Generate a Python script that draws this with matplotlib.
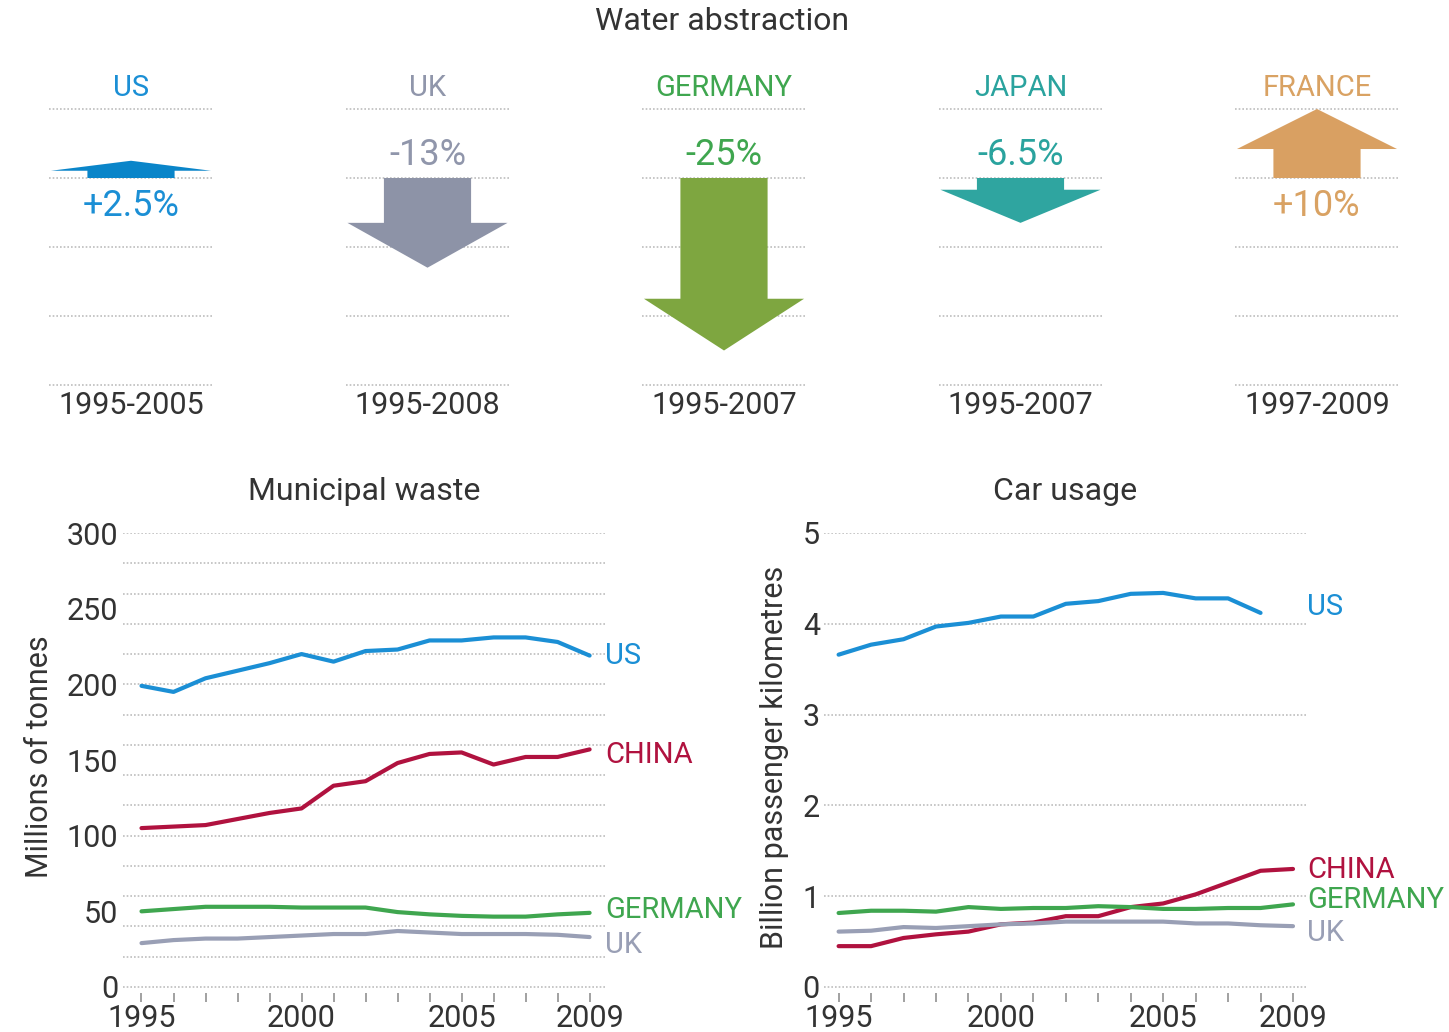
import matplotlib
matplotlib.use("Agg")
import matplotlib.pyplot as plt
from matplotlib import font_manager
import numpy as np

# ---------------- data ----------------
water_countries = ["US", "UK", "GERMANY", "JAPAN", "FRANCE"]
water_change = [2.5, -13, -25, -6.5, 10]
water_labels = ["+2.5%", "-13%", "-25%", "-6.5%", "+10%"]
water_periods = ["1995-2005", "1995-2008", "1995-2007", "1995-2007", "1997-2009"]

years = list(range(1995, 2010))
labeled_years = [1995, 2000, 2005, 2009]

waste_us = [199, 195, 204, 209, 214, 220, 215, 222, 223, 229, 229, 231, 231, 228, 219]
waste_china = [105, 106, 107, 111, 115, 118, 133, 136, 148, 154, 155, 147, 152, 152, 157]
waste_germany = [50, 51.5, 53, 53, 53, 52.5, 52.5, 52.5, 49.5, 48, 47, 46.5, 46.5, 48, 49]
waste_uk = [29, 31, 32, 32, 33, 34, 35, 35, 37, 36, 35, 35, 35, 34.5, 33]

car_years_us = list(range(1995, 2009))
car_us = [3.66, 3.77, 3.83, 3.97, 4.01, 4.08, 4.08, 4.22, 4.25, 4.33, 4.34, 4.28, 4.28, 4.12]
car_china = [0.45, 0.45, 0.54, 0.58, 0.61, 0.69, 0.71, 0.78, 0.78, 0.88, 0.92, 1.02, 1.15, 1.28, 1.30]
car_germany = [0.815, 0.84, 0.84, 0.83, 0.88, 0.86, 0.87, 0.87, 0.89, 0.88, 0.86, 0.86, 0.87, 0.87, 0.91]
car_uk = [0.61, 0.62, 0.66, 0.65, 0.67, 0.69, 0.70, 0.72, 0.72, 0.72, 0.72, 0.70, 0.70, 0.68, 0.67]

waste_ticks = [0, 50, 100, 150, 200, 250, 300]
car_ticks = [0, 1, 2, 3, 4, 5]

# ---------------- style ----------------
def pick_font():
    for name in ["Roboto", "Open Sans", "DejaVu Sans"]:
        try:
            font_manager.findfont(name, fallback_to_default=False)
            return name
        except Exception:
            continue
    return "DejaVu Sans"

FONT = pick_font()
plt.rcParams["font.family"] = [FONT, "DejaVu Sans"]
plt.rcParams["font.weight"] = "normal"

C_US = "#1b8fd5"
C_UK = "#999fb5"
C_DE = "#3fa64f"
C_CN = "#b0123f"
C_JP = "#2aa39e"
C_FR = "#d9a263"
DARK = "#333333"
GRID = "#bdbdbd"

text_colors = [C_US, "#9096ab", C_DE, C_JP, C_FR]
arrow_colors = ["#0a85c9", "#8d93a7", "#7ea640", "#2fa5a0", "#d9a062"]
head_len = [1.45, 6.5, 7.5, 4.8, 5.8]

FS_LABEL = 21
FS_NUM = 22
FS_PCT = 26
FS_TITLE = 23

W, H = 1449, 1032
fig = plt.figure(figsize=(W / 100, H / 100), dpi=100)

# ---------------- top: water abstraction ----------------
px_per_pct = 6.9
base_px = 178
top_px, bot_px = 60, 440
axw = fig.add_axes([0, 1 - bot_px / H, 1, (bot_px - top_px) / H])
col0, col_step = 131, 296.5
axw.set_xlim((0 - col0) / col_step, (W - col0) / col_step)
axw.set_ylim((base_px - bot_px) / px_per_pct, (base_px - top_px) / px_per_pct)
axw.axis("off")

grid_half = 0.275
shaft_half = 0.147
head_half = 0.27
for i, (name, v) in enumerate(zip(water_countries, water_change)):
    for g in [10, 0, -10, -20, -30]:
        axw.plot([i - grid_half, i + grid_half], [g, g], ls=(0, (1, 1.2)), lw=1.2,
                 color=GRID, zorder=1)
    sgn = np.sign(v)
    b = v - sgn * head_len[i]
    verts = [(i - shaft_half, 0), (i + shaft_half, 0), (i + shaft_half, b),
             (i + head_half, b), (i, v), (i - head_half, b), (i - shaft_half, b)]
    axw.add_patch(plt.Polygon(verts, closed=True, color=arrow_colors[i], lw=0, zorder=2))
    axw.text(i, 13.0, name, ha="center", va="center", fontsize=FS_LABEL, color=text_colors[i])
    ty = 3.3 if v < 0 else -4.0
    axw.text(i, ty, water_labels[i], ha="center", va="center", fontsize=FS_PCT,
             color=text_colors[i], zorder=3)
    axw.text(i, -33.0, water_periods[i], ha="center", va="center", fontsize=FS_NUM, color=DARK)

fig.text(722 / W, 1 - 22 / H, "Water abstraction", ha="center", va="center",
         fontsize=FS_TITLE, color=DARK)

# ---------------- bottom panels ----------------
def setup_line_axes(left_px, right_px, x0_px, x1_px, yl, yh, ytop_px, y0_px):
    pu = (y0_px - ytop_px) / (yh - yl)
    gap = 6
    ymin = yl - gap / pu
    ax = fig.add_axes([left_px / W, 1 - (y0_px + gap) / H, (right_px - left_px) / W,
                       (y0_px + gap - ytop_px) / H])
    xpu = (x1_px - x0_px) / (2009 - 1995)
    ax.set_xlim(1995 - (x0_px - left_px) / xpu, 2009 + (right_px - x1_px) / xpu)
    ax.set_ylim(ymin, yh)
    for s in ax.spines.values():
        s.set_visible(False)
    ax.set_xticks(years)
    ax.set_xticklabels([str(y) if y in labeled_years else "" for y in years])
    ax.tick_params(axis="x", length=6.5, width=1.3, color="#9a9a9a", pad=1.5,
                   labelsize=FS_NUM, labelcolor=DARK)
    ax.tick_params(axis="y", length=0, pad=3, labelsize=FS_NUM, labelcolor=DARK)
    ax.patch.set_alpha(0)
    return ax

lw = 3.0

# Municipal waste
axm = setup_line_axes(122.6, 605, 141.5, 589.6, 0, 300, 533, 987)
for g in range(0, 301, 20):
    axm.axhline(g, ls=(0, (1, 1.2)), lw=1.2, color=GRID, zorder=1)
axm.set_yticks(waste_ticks)
waste_series = [("US", waste_us, C_US, 0), ("CHINA", waste_china, C_CN, -4),
                ("GERMANY", waste_germany, C_DE, 2), ("UK", waste_uk, C_UK, -5)]
for name, vals, c, dy in waste_series:
    axm.plot(years, vals, color=c, lw=lw, solid_capstyle="round", zorder=3, clip_on=False)
    axm.annotate(name, xy=(years[-1], vals[-1] + dy), xytext=(11, 0),
                 textcoords="offset points", ha="left", va="center", fontsize=FS_LABEL,
                 color=c, annotation_clip=False)
axm.set_title("Municipal waste", fontsize=FS_TITLE, color=DARK, pad=24)
fig.text(40 / W, 1 - 757 / H, "Millions of tonnes", rotation=90, ha="center",
         va="center", fontsize=FS_NUM, color=DARK)

# Car usage
axc = setup_line_axes(824, 1306, 838.6, 1293, 0, 5, 533, 987)
for g in car_ticks:
    axc.axhline(g, ls=(0, (1, 1.2)), lw=1.2, color=GRID, zorder=1)
axc.set_yticks(car_ticks)
car_series = [("US", car_years_us, car_us, C_US, 0.06),
              ("CHINA", years, car_china, C_CN, -0.01),
              ("GERMANY", years, car_germany, C_DE, 0.05),
              ("UK", years, car_uk, C_UK, -0.08)]
for name, xs, vals, c, dy in car_series:
    axc.annotate(name, xy=(2009, vals[-1] + dy), xytext=(10, 0),
                 textcoords="offset points", ha="left", va="center", fontsize=FS_LABEL,
                 color=c, annotation_clip=False)
    axc.plot(xs, vals, color=c, lw=lw, solid_capstyle="round", zorder=3, clip_on=False)
axc.set_title("Car usage", fontsize=FS_TITLE, color=DARK, pad=24)
fig.text(775 / W, 1 - 757 / H, "Billion passenger kilometres", rotation=90, ha="center",
         va="center", fontsize=FS_NUM, color=DARK)

fig.savefig("out.png", dpi=100)
